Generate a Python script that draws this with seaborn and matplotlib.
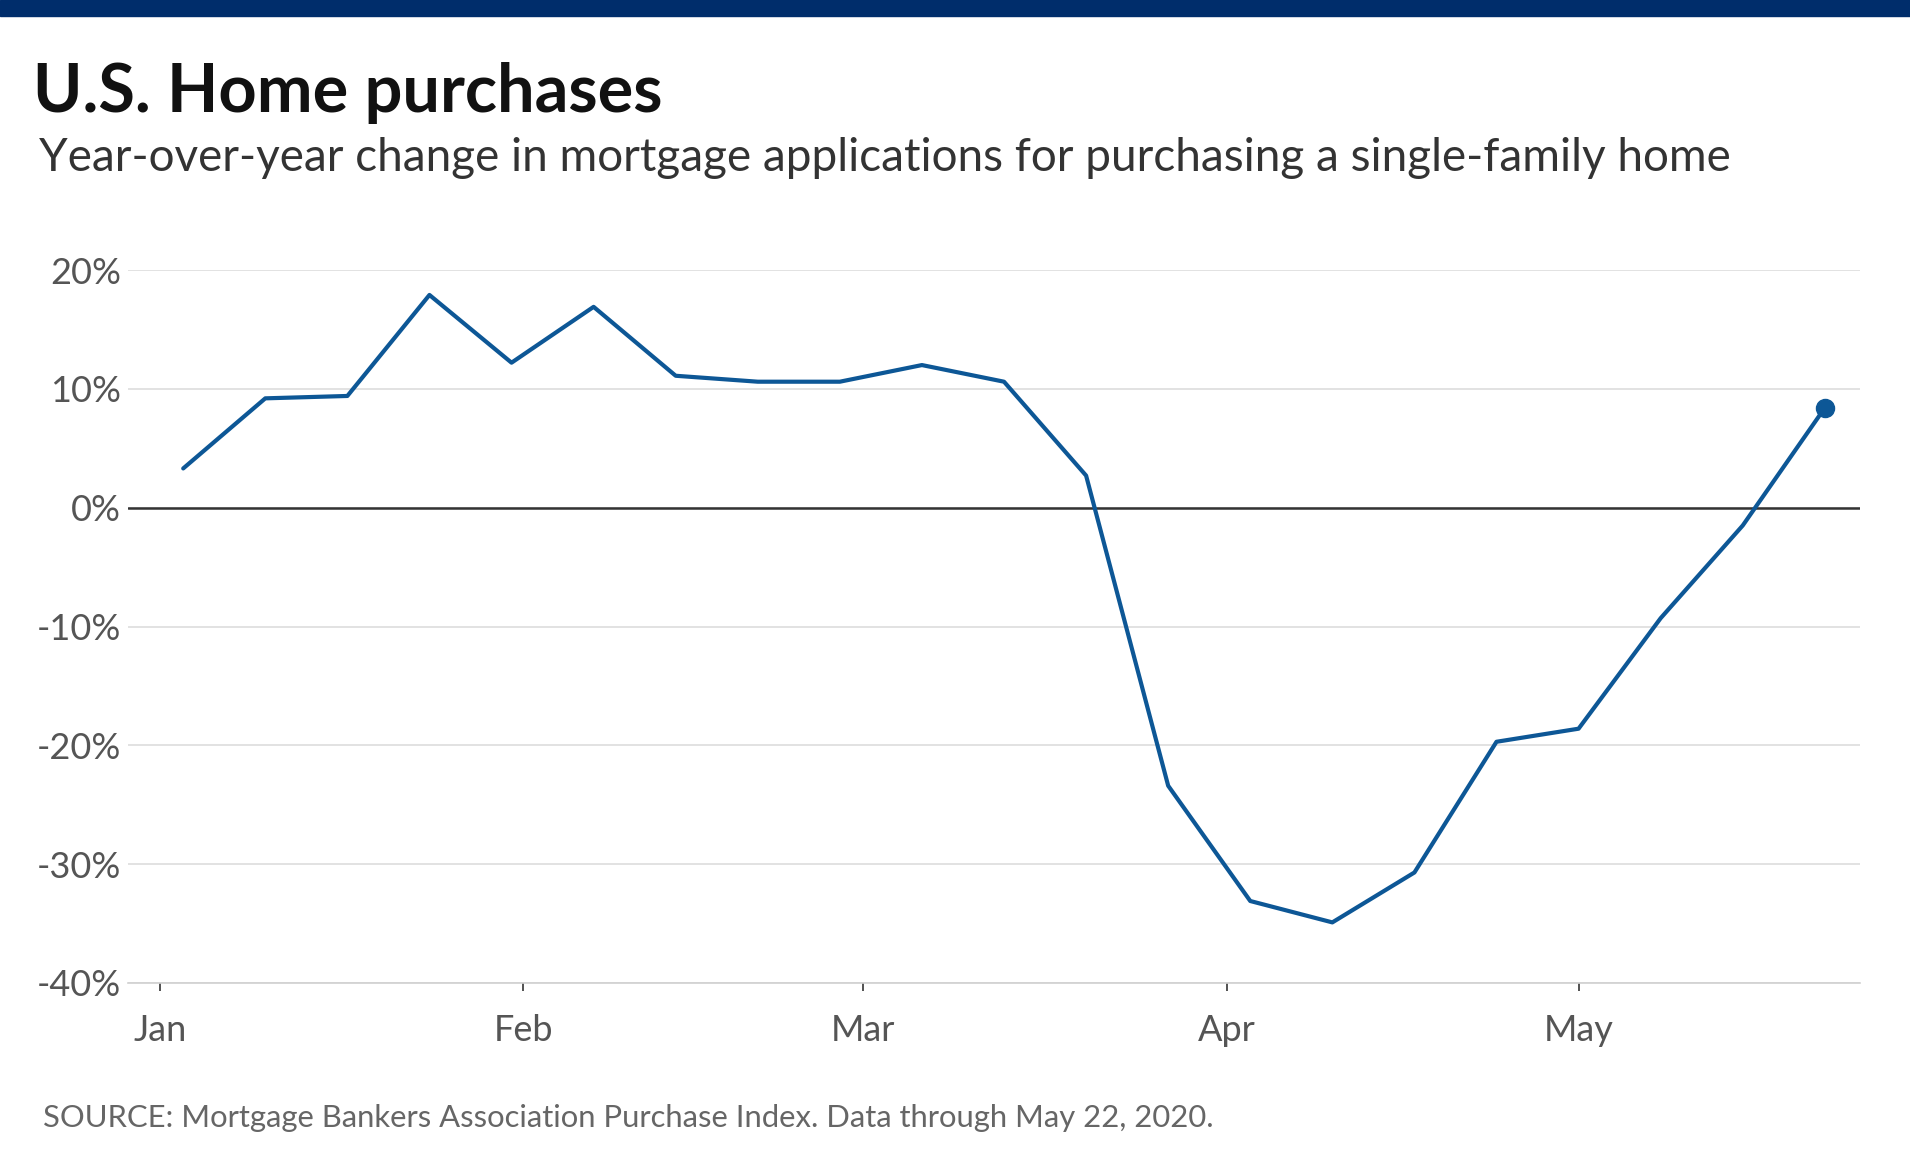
import matplotlib
matplotlib.use("Agg")
import matplotlib.pyplot as plt
from matplotlib.patches import Rectangle
import pandas as pd
import seaborn as sns

# ------------------------------------------------------------------ #
# Data
# ------------------------------------------------------------------ #
weeks = pd.date_range("2020-01-03", "2020-05-22", freq="7D")
yoy_change = [3.3, 9.2, 9.4, 17.9, 12.2, 16.9, 11.1, 10.6, 10.6, 12.0,
              10.6, 2.7, -23.4, -33.1, -34.9, -30.7, -19.7, -18.6, -9.3,
              -1.5, 8.4]
y_ticks = [20, 10, 0, -10, -20, -30, -40]
y_labels = ["20%", "10%", "0%", "-10%", "-20%", "-30%", "-40%"]
month_ticks = pd.to_datetime(["2020-01-01", "2020-02-01", "2020-03-01",
                              "2020-04-01", "2020-05-01"])
month_labels = ["Jan", "Feb", "Mar", "Apr", "May"]

title = "U.S. Home purchases"
subtitle = ("Year-over-year change in mortgage applications for purchasing "
            "a single-family home")
source = ("SOURCE: Mortgage Bankers Association Purchase Index. "
          "Data through May 22, 2020.")

df = pd.DataFrame({"week": weeks, "change": yoy_change})

# ------------------------------------------------------------------ #
# Style
# ------------------------------------------------------------------ #
sns.set_theme(style="white")
plt.rcParams["font.family"] = ["Lato", "DejaVu Sans"]

LINE = "#0d5796"
GRID = "#dddddd"
TEXT = "#555555"

fig = plt.figure(figsize=(19.1, 11.61), dpi=100)
fig.patch.set_facecolor("white")
fig.patches.append(Rectangle((0, 1 - 16 / 1161), 1, 16 / 1161,
                             transform=fig.transFigure, color="#002d6b",
                             zorder=0))

ax = fig.add_axes([128 / 1910, 1 - 983 / 1161, (1860 - 128) / 1910,
                   (983 - 270) / 1161])

sns.lineplot(data=df, x="week", y="change", color=LINE, linewidth=3.0,
             ax=ax, zorder=3)
last = df.iloc[[-1]]
ax.plot(last["week"], last["change"], "o", color=LINE, markersize=13,
        zorder=4, clip_on=False)

ax.axhline(0, color="#333333", linewidth=1.8, zorder=2)

ax.set_ylim(-40, 20)
ax.set_xlim(pd.Timestamp("2019-12-29 07:00"), pd.Timestamp("2020-05-25"))
ax.set_yticks(y_ticks)
ax.set_yticklabels(y_labels)
ax.set_xticks(month_ticks)
ax.set_xticklabels(month_labels)
ax.set_xlabel("")
ax.set_ylabel("")

ax.yaxis.grid(True, color=GRID, linewidth=1.2)
ax.xaxis.grid(False)
ax.set_axisbelow(True)
for side in ["top", "right", "left"]:
    ax.spines[side].set_visible(False)
ax.spines["bottom"].set_color("#d0d0d0")
ax.spines["bottom"].set_linewidth(1.2)

ax.tick_params(axis="y", length=0, pad=5, labelsize=26, labelcolor=TEXT)
ax.tick_params(axis="x", length=6, width=1.2, color="#333333", pad=16,
               labelsize=26, labelcolor=TEXT, bottom=True)

# ------------------------------------------------------------------ #
# Titles and source
# ------------------------------------------------------------------ #
fig.text(33 / 1910, 1 - 112 / 1161, title, fontsize=48, fontweight="bold",
         color="#111111", va="baseline", ha="left")
fig.text(39 / 1910, 1 - 171 / 1161, subtitle, fontsize=33, color="#333333",
         va="baseline", ha="left")
fig.text(43 / 1910, 1 - 1127 / 1161, source, fontsize=22.3, color="#666666",
         va="baseline", ha="left")

fig.savefig("out.png", dpi=100)
plt.close(fig)
